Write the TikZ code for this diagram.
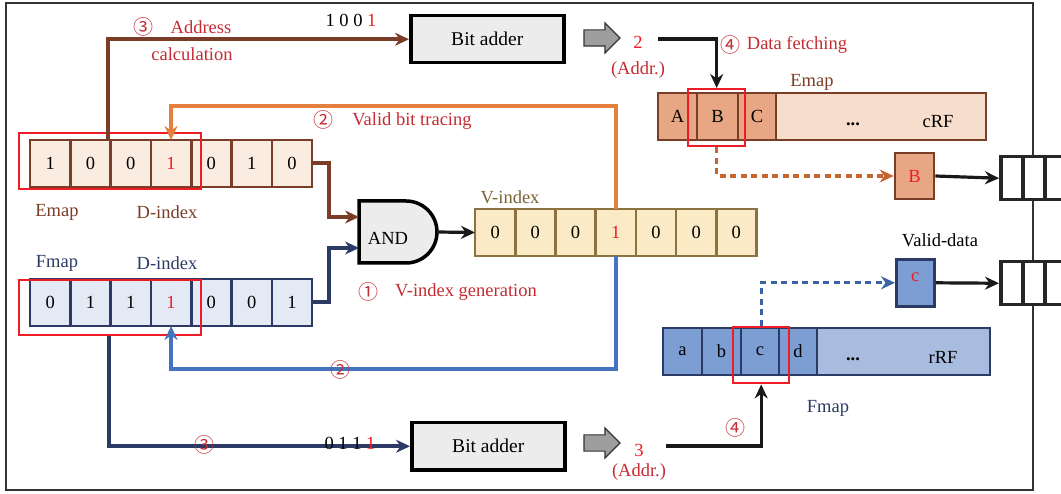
\documentclass[tikz,border=0pt]{standalone}
\usepackage{fontspec}
\setmainfont{Liberation Serif}
\newfontfamily\cjk{Noto Sans CJK SC}
\usetikzlibrary{shapes.arrows,calc,arrows.meta}
\definecolor{ebrown}{HTML}{7A3E28}
\definecolor{efill}{HTML}{FBECE2}
\definecolor{enavy}{HTML}{2C3B66}
\definecolor{ffill}{HTML}{E3EAF5}
\definecolor{volive}{HTML}{8B7240}
\definecolor{vtext}{HTML}{7A6235}
\definecolor{vfill}{HTML}{FAEAC6}
\definecolor{lorange}{HTML}{E47F3E}
\definecolor{lblue}{HTML}{4474C0}
\definecolor{dorange}{HTML}{C5652F}
\definecolor{dblue}{HTML}{3B62A3}
\definecolor{salmon}{HTML}{E8A784}
\definecolor{lsalmon}{HTML}{F7DDCC}
\definecolor{mblue}{HTML}{7D9ED3}
\definecolor{lmblue}{HTML}{A7BCDF}
\definecolor{lab}{HTML}{C42B33}
\definecolor{rdig}{HTML}{EE1D25}
\definecolor{gfill}{HTML}{ECECEC}
\definecolor{frame}{HTML}{333333}
\begin{document}
\begin{tikzpicture}[x=1pt,y=-1pt,font=\fontsize{18.5}{21}\selectfont,
  cell/.style={draw,line width=2.6pt,minimum width=40.3pt,minimum height=47pt,inner sep=0pt,anchor=north west,outer sep=0pt},
  ecell/.style={cell,draw=ebrown,fill=efill},
  fcell/.style={cell,draw=enavy,fill=ffill},
  vcell/.style={cell,draw=volive,fill=vfill},
  ccell/.style={cell,draw=ebrown,fill=salmon,minimum height=47pt},
  rcell/.style={cell,draw=enavy,fill=mblue,minimum height=47pt},
  redbox/.style={draw=rdig,line width=2.4pt,inner sep=0pt,anchor=north west},
  adder/.style={draw=black,line width=3.5pt,fill=gfill,minimum width=153pt,minimum height=47pt,inner sep=0pt,anchor=north west,font=\fontsize{19.5}{22}\selectfont},
  blockarrow/.style={single arrow,draw=black!80,line width=1.2pt,fill=black!38,minimum height=36pt,single arrow head extend=7pt,inner xsep=0pt,inner ysep=7.5pt,single arrow head indent=0pt},
  fifo/.style={draw=black!85,line width=3.5pt,fill=white,minimum width=22pt,minimum height=43pt,inner sep=0pt,anchor=north west},
  lbl/.style={text=lab,inner sep=0pt},
  circ/.style={text=lab,inner sep=0pt,font=\cjk\fontsize{20}{22}\selectfont},
  tip/.style={-{Stealth[length=14pt,width=13pt]}},
  brownline/.style={draw=ebrown,line width=4pt,tip},
  navyline/.style={draw=enavy,line width=4pt,tip},
  blackline/.style={draw=black!90,line width=3.2pt,tip},
  dashline/.style={line width=3.4pt,dash pattern=on 6pt off 4.5pt,tip},
]
\useasboundingbox (0,0) rectangle (1061,494);
\draw[frame,line width=2.4pt] (6,3) rectangle (1033,490);

% Emap array
\foreach \v/\c [count=\i] in {1/black,0/black,0/black,1/rdig,0/black,1/black,0/black}
  \node[ecell,text=\c] (e\i) at ({30+(\i-1)*40.3},140) {\v};
\node[redbox,minimum width=182pt,minimum height=56pt] (rbEm) at (18,132) {};
\node[text=ebrown] (lEmap) at (57,212) {Emap};
\node[text=ebrown] (lDi1) at (167,212) {D-index};

% Fmap array
\foreach \v/\c [count=\i] in {0/black,1/black,1/black,1/rdig,0/black,0/black,1/black}
  \node[fcell,text=\c] (f\i) at ({30+(\i-1)*40.3},279) {\v};
\node[redbox,minimum width=182pt,minimum height=55pt] (rbFm) at (18,279) {};
\node[text=enavy] (lFmap) at (57,263) {Fmap};
\node[text=enavy] (lDi2) at (167,263) {D-index};

% V-index
\foreach \v/\c [count=\i] in {0/black,0/black,0/black,1/rdig,0/black,0/black,0/black}
  \node[vcell,text=\c] (v\i) at ({475+(\i-1)*40.2},209) {\v};
\node[text=vtext] (lVi) at (510,197) {V-index};

% AND gate
\draw[line width=3.5pt,fill=gfill] (359,201) -- (406,201) arc[start angle=-90,end angle=90,radius=31] -- (359,263) -- cycle;
\node (andg) at (388,238) {AND};
\coordinate (andin1) at (359,217);
\coordinate (andin2) at (359,248);
\coordinate (andout) at (437,232);

% Adders
\node[adder] (ba1) at (409,14) {Bit adder};
\node[adder] (ba2) at (410,421) {Bit adder};
\node[blockarrow] (ga1) at (598,38) {};
\node[blockarrow] (ga2) at (598,443) {};
\node[text=rdig] (n2) at (638,42) {2};
\node[lbl] (ad2) at (638,70) {(Addr.)};
\node[text=rdig] (n3) at (639,450) {3};
\node[lbl] (ad3) at (639,472) {(Addr.)};
\coordinate (a2) at (658,39);
\coordinate (a3) at (666,446);

% cRF
\node[ccell,minimum width=39pt] (cA) at (658,93) {A};
\node[ccell,minimum width=41pt] (cB) at (697,93) {B};
\node[ccell,minimum width=38pt] (cC) at (738,93) {C};
\node[ccell,fill=lsalmon,minimum width=210pt] (cR) at (776,93) {};
\node (cdots) at (853,124) {\textbf{...}};
\node (cRF) at (938,122) {cRF};
\node[text=ebrown] (lEmap2) at (812,82) {Emap};
\node[redbox,minimum width=57pt,minimum height=57pt] (rbE) at (687,88) {};

% rRF
\node[rcell,minimum width=39pt] (ra) at (663,328) {a};
\node[rcell,minimum width=39pt] (rb) at (702,328) {b};
\node[rcell,minimum width=38pt] (rc) at (741,328) {c};
\node[rcell,minimum width=38pt] (rd) at (779,328) {d};
\node[rcell,fill=lmblue,minimum width=173pt] (rR) at (817,328) {};
\node (rdots) at (853,359) {\textbf{...}};
\node (rRF) at (943,357) {rRF};
\node[text=enavy] (lFmap2) at (828,408) {Fmap};
\node[redbox,minimum width=56pt,minimum height=56pt] (rbF) at (732,326) {};

% fetched data
\node[draw=ebrown,fill=salmon,line width=2.6pt,minimum width=39pt,minimum height=46pt,inner sep=0pt,text=rdig] (bB) at (914.5,176) {B};
\node[draw=enavy,fill=mblue,line width=2.6pt,minimum width=38pt,minimum height=47pt,inner sep=0pt,text=rdig,anchor=north west] (bc) at (895,258) {\raisebox{12pt}{c}};
\node (lVd) at (940,240) {Valid-data};

% FIFOs
\node[fifo] (q1a) at (999,155) {};
\node[fifo] (q1b) at (1021,155) {};
\node[fifo] (q1c) at (1043,155) {};
\node[fifo] (q2a) at (999,260) {};
\node[fifo] (q2b) at (1021,260) {};
\node[fifo] (q2c) at (1043,260) {};

% labels
\node[circ] (c3a) at (143,27) {③};
\node[lbl] (t3a) at (201,27) {Address};
\node[lbl] (t3b) at (192,54) {calculation};
\node[inner sep=0pt] (bits1) at (351,20) {1 0 0 {\color{rdig}1}};
\node[circ] (c2a) at (323,120) {②};
\node[lbl] (t2a) at (412,121) {Valid bit tracing};
\node[circ] (c1) at (368,292) {①};
\node[lbl] (t1) at (466,292) {V-index generation};
\node[circ] (c4a) at (730,45) {④};
\node[lbl] (t4a) at (797,45) {Data fetching};
\node[circ] (c4b) at (735,428) {④};

% connectors
\draw[brownline] (e7.east) -- ++(17,0) |- (andin1);
\draw[navyline] (f7.east) -- ++(17,0) |- (andin2);
\draw[blackline] (andout) -- (v1.west);
\draw[draw=lorange,line width=4pt,tip] (v4.north) -- ++(0,-103) -| (e4.north);
\draw[draw=lblue,line width=4pt,tip] (v4.south) -- ++(0,113) -| (f4.south);
\draw[brownline] ($(e3.north west)+(-3,0)$) |- (ba1.west);
\draw[navyline] ($(rbFm.south)+(-1,0)$) |- (ba2.west);
\draw[blackline] (a2) -| (rbE.north);
\draw[blackline] (a3) -| (rbF.south);
\draw[draw=dorange,dashline] (rbE.south) |- (bB.west);
\draw[draw=dblue,dashline] (rbF.north) |- (bc.west);
\draw[blackline] (bB.east) -- (q1a.west);
\draw[blackline] (bc.east) -- (q2a.west);

\node[circ] (c2b) at (340,370) {②};
\node[circ] (c3b) at (204,445) {③};
\node[inner sep=0pt] (bits2) at (350,443) {0 1 1 {\color{rdig}1}};
\end{tikzpicture}
\end{document}
